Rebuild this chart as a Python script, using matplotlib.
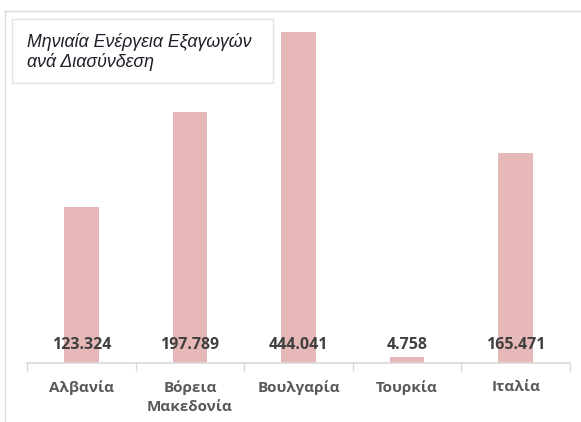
import matplotlib
matplotlib.use("Agg")
import matplotlib.pyplot as plt
from matplotlib.patches import Rectangle
from matplotlib.lines import Line2D
import numpy as np

categories = ["Αλβανία", "Βόρεια\nΜακεδονία", "Βουλγαρία", "Τουρκία", "Ιταλία"]
values = [123.324, 197.789, 444.041, 4.758, 165.471]
value_labels = ["123.324", "197.789", "444.041", "4.758", "165.471"]
title = "Μηνιαία Ενέργεια Εξαγωγών\nανά Διασύνδεση"

W, H = 581, 422
fig = plt.figure(figsize=(W / 100, H / 100), dpi=100)

def fx(px):
    return px / W

def fy(py):
    return 1 - py / H

# outer chart frame (top and left edges visible)
fig.add_artist(Line2D([fx(5), 1.0], [fy(11), fy(11)], transform=fig.transFigure,
                      color="#d9d9d9", linewidth=1.0))
fig.add_artist(Line2D([fx(5), fx(5)], [fy(11), 0.0], transform=fig.transFigure,
                      color="#d9d9d9", linewidth=1.0))

ax = fig.add_axes([fx(27), fy(363), fx(570) - fx(27), fy(32) - fy(363)])
x = np.arange(len(categories))
ax.bar(x, values, width=0.32, color="#e6b8b7", zorder=2)
ax.set_xlim(-0.5, len(categories) - 0.5)
ax.set_ylim(0, 261)

for s in ["top", "right", "left"]:
    ax.spines[s].set_visible(False)
ax.spines["bottom"].set_color("#d9d9d9")
ax.spines["bottom"].set_linewidth(1.2)
ax.set_yticks([])
ax.set_xticks(np.arange(len(categories) + 1) - 0.5, minor=False)
ax.set_xticklabels([])
ax.tick_params(axis="x", which="major", length=6, color="#d9d9d9", width=1.0)
ax.set_xticks(x, minor=True)
ax.set_xticklabels(categories, minor=True, fontsize=11, fontweight="bold",
                   color="#595959", family="Open Sans", linespacing=1.5)
ax.tick_params(axis="x", which="minor", length=0, pad=12)

for xi, lab in zip(x, value_labels):
    ax.annotate(lab, (xi, 0), xytext=(0, 13), textcoords="offset points",
                ha="center", va="center", fontsize=11.5, fontweight="bold",
                color="#404040", family="Open Sans", zorder=3)

# title box
fig.add_artist(Rectangle((fx(12), fy(83)), fx(273) - fx(12), fy(19) - fy(83),
                         transform=fig.transFigure, facecolor="white",
                         edgecolor="#e3e3e3", linewidth=1.0, zorder=5))
fig.text(fx(27), fy(52), title, ha="left", va="center", fontsize=12.8,
         style="italic", color="#1f1f2a", family="Liberation Sans",
         linespacing=1.15, zorder=6)

fig.savefig("out.png", dpi=100)
